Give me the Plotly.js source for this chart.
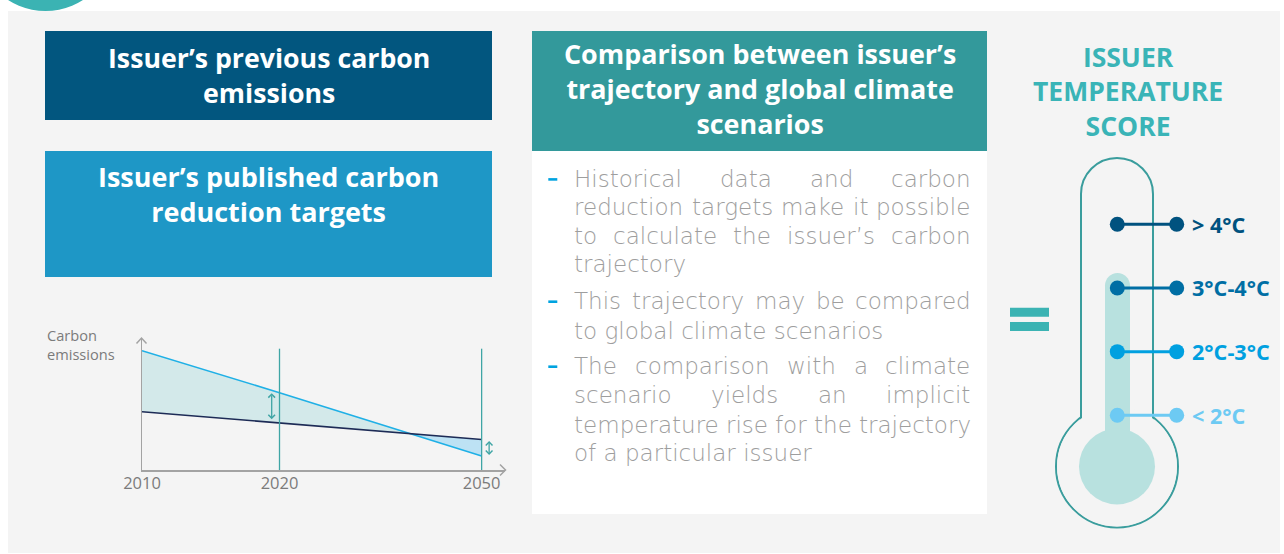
<!DOCTYPE html>
<html><head><meta charset="utf-8">
<script src="https://cdn.plot.ly/plotly-3.0.1.min.js"></script>
<style>html,body{margin:0;padding:0;background:#fff;overflow:hidden}#chart{width:1284px;height:554px}</style>
</head><body><div id="chart"></div>
<script>
// ---------- data ----------
const years = ['2010', '2020', '2050'];
const yearPositions = [0, 10, 24.7];          // the original axis is not to scale
const scenarioEmissions = [119.3, 77.3, 14];  // global climate scenario (light blue)
const issuerEmissions = [58.3, 47.3, 30.5];   // issuer trajectory (navy)
const tempLabels = ['> 4°C', '3°C-4°C', '2°C-3°C', '< 2°C'];
const tempLevels = [4, 3, 2, 1];
const tempColors = ['#00527f', '#006ea4', '#00a0e0', '#6dcaf3'];
const box1Lines = ['Issuer’s previous carbon', 'emissions'];
const box2Lines = ['Issuer’s published carbon', 'reduction targets'];
const box3Lines = ['Comparison between issuer’s', 'trajectory and global climate', 'scenarios'];
const scoreLines = ['ISSUER', 'TEMPERATURE', 'SCORE'];
const bullets = [
  ['Historical data and carbon', 'reduction targets make it possible', 'to calculate the issuer’s carbon', 'trajectory'],
  ['This trajectory may be compared', 'to global climate scenarios'],
  ['The comparison with a climate', 'scenario yields an implicit', 'temperature rise for the trajectory', 'of a particular issuer']
];
const yAxisLabel = ['Carbon', 'emissions'];

// ---------- helpers ----------
const W = 1284, H = 554;
const PX = x => x / W, PY = y => 1 - y / H;
const HEAD = 'Open Sans', BODYF = 'DejaVu Sans';
const ctx = document.createElement('canvas').getContext('2d');
function tw(t, size, weight, fam) { ctx.font = `${weight} ${size}px "${fam}"`; return ctx.measureText(t).width; }
function fit(lines, targets, weight, fam) {
  let s = 0; lines.forEach((l, i) => { s += targets[i] / tw(l, 100, weight, fam) * 100; }); return s / lines.length;
}
const CENTER_K = {'Open Sans': 0.388, 'DejaVu Sans': 0.346};
function txt(text, xpx, baseline, size, color, weight, anchor, fam) {
  fam = fam || HEAD;
  return {xref: 'paper', yref: 'paper', x: PX(xpx), y: PY(baseline - CENTER_K[fam] * size), xanchor: anchor, yanchor: 'middle',
    text: text, showarrow: false, borderpad: 0, borderwidth: 0, align: anchor === 'left' ? 'left' : 'center',
    font: {family: fam, size: size, color: color, weight: weight}};
}
function block(lines, xpx, baselines, size, color, weight, anchor) {
  const mid = (baselines[0] + baselines[baselines.length - 1]) / 2;
  return txt(lines.join('<br>'), xpx, mid, size, color, weight, anchor, HEAD);
}
function rect(x0, y0, x1, y1, fill) {
  return {type: 'rect', xref: 'paper', yref: 'paper', x0: PX(x0), x1: PX(x1), y0: PY(y1), y1: PY(y0), fillcolor: fill, line: {width: 0}, layer: 'below'};
}
function circ(cx, cy, r, fill, lineColor, lw) {
  return {type: 'circle', xref: 'paper', yref: 'paper', x0: PX(cx - r), x1: PX(cx + r), y0: PY(cy + r), y1: PY(cy - r),
    fillcolor: fill, line: {color: lineColor || 'rgba(0,0,0,0)', width: lw || 0}, layer: 'below'};
}
function roundTop(xl, xr, yTop, yBottom) {
  const r = (xr - xl) / 2, cx = xl + r, cy = yTop + r, k = 0.5523 * r;
  const p = (x, y) => `${PX(x)},${PY(y)}`;
  return `M ${p(xl, yBottom)} L ${p(xl, cy)} C ${p(xl, cy - k)} ${p(cx - k, yTop)} ${p(cx, yTop)} C ${p(cx + k, yTop)} ${p(xr, cy - k)} ${p(xr, cy)} L ${p(xr, yBottom)}`;
}

const BG = '#f4f4f4', TEAL = '#3a9d9d';
const shapes = [];
const annotations = [];

// background panel, corner circle, boxes
shapes.push(rect(8, 11, 1280, 553, BG));
shapes.push(circ(45.5, -58.4, 69.4, '#3bb3b3'));
shapes.push(rect(45, 31, 492, 120, '#02567f'));
shapes.push(rect(45, 151, 492, 277, '#1e97c6'));
shapes.push(rect(532, 31, 987, 151, '#33999b'));
shapes.push(rect(532, 151, 987, 514, '#ffffff'));

// headings (one text block per box)
annotations.push(block(box1Lines, 268.5, [68.3, 102.7], fit(box1Lines, [326, 131], 700, HEAD), '#ffffff', 700, 'center'));
annotations.push(block(box2Lines, 268.5, [188.3, 220.7], fit(box2Lines, [342.7, 234], 700, HEAD), '#ffffff', 700, 'center'));
annotations.push(block(box3Lines, 759.5, [67.7, 99.3, 131], fit(box3Lines, [393.7, 390.7, 126], 700, HEAD), '#ffffff', 700, 'center'));
const scoreSize = (fit(scoreLines, [98, 203.3, 92.7], 700, HEAD) + 31.65 / 1.3) / 2;
annotations.push(block(scoreLines, 1128, [70, 101.7, 133.3], scoreSize, '#3ab4b7', 700, 'center'));

// justified body text
const bodySize = fit(['to global climate scenarios', 'of a particular issuer', 'trajectory'], [312, 236.7, 111.7], 200, BODYF);
const baselines = [[186.7, 215.3, 244, 271.7], [309, 338.7], [374, 403.3, 432.7, 460.7]];
const L = 574.3, R = 970.7, BODY = '#9e9e9e';
bullets.forEach((lines, bi) => {
  shapes.push(rect(548.3, baselines[bi][0] - 8.6, 557.3, baselines[bi][0] - 6, '#00a3e0'));
  lines.forEach((line, li) => {
    const b = baselines[bi][li];
    if (li === lines.length - 1) { annotations.push(txt(line, L, b, bodySize, BODY, 200, 'left', BODYF)); return; }
    const words = line.split(' ');
    const ws = words.map(w => tw(w, bodySize, 200, BODYF));
    const total = ws.reduce((a, c) => a + c, 0);
    const gap = (R - L - total) / (words.length - 1);
    let x = L;
    words.forEach((w, wi) => { annotations.push(txt(w, x, b, bodySize, BODY, 200, 'left', BODYF)); x += ws[wi] + gap; });
  });
});

// small chart: axis label
annotations.push(block(yAxisLabel, 47, [341, 360], 14.6, '#7b7b7b', 400, 'left'));

// axis arrow chevrons
const pp = (x, y) => `${PX(x)},${PY(y)}`;
shapes.push({type: 'path', xref: 'paper', yref: 'paper', path: `M ${pp(500, 464.5)} L ${pp(505.5, 470)} L ${pp(500, 475.5)}`, line: {color: '#a3a3a3', width: 1.5}, layer: 'above'});
shapes.push({type: 'path', xref: 'paper', yref: 'paper', path: `M ${pp(136.5, 343.5)} L ${pp(141.5, 338)} L ${pp(146.5, 343.5)}`, line: {color: '#a3a3a3', width: 1.5}, layer: 'above'});

// vertical reference lines at 2020 and 2050
const vTop = Math.max(...scenarioEmissions) + 2;
[1, 2].forEach(i => shapes.push({type: 'line', xref: 'x', yref: 'y', x0: yearPositions[i], x1: yearPositions[i], y0: 0, y1: vTop,
  line: {color: '#3fa5a5', width: 1.3}, layer: 'above'}));

// double arrows showing the gap
const PXU = 13.75;
function dblArrow(xv, yA, yB) {
  return {xref: 'x', yref: 'y', axref: 'x', ayref: 'y', x: xv, y: yA, ax: xv, ay: yB, text: '', showarrow: true,
    arrowhead: 4, startarrowhead: 4, arrowside: 'end+start', arrowsize: 1, startarrowsize: 1, arrowwidth: 1.3, arrowcolor: '#3fa5a5', standoff: 0, startstandoff: 0};
}
annotations.push(dblArrow(yearPositions[1] - 7.8 / PXU, scenarioEmissions[1] - 0.5, issuerEmissions[1] + 2));
annotations.push(dblArrow(yearPositions[2] + 7.5 / PXU, issuerEmissions[2] - 1.5, scenarioEmissions[2] - 0.5));

// fill split at the crossing of the two trajectories
const diff = scenarioEmissions.map((v, i) => v - issuerEmissions[i]);
const k = diff.findIndex((d, i) => i > 0 && diff[i - 1] * d < 0);
const t = diff[k - 1] / (diff[k - 1] - diff[k]);
const xc = yearPositions[k - 1] + t * (yearPositions[k] - yearPositions[k - 1]);
const yc = issuerEmissions[k - 1] + t * (issuerEmissions[k] - issuerEmissions[k - 1]);
const xA = yearPositions.slice(0, k).concat([xc]);
const xB = [xc].concat(yearPositions.slice(k));
const iA = issuerEmissions.slice(0, k).concat([yc]), sA = scenarioEmissions.slice(0, k).concat([yc]);
const iB = [yc].concat(issuerEmissions.slice(k)), sB = [yc].concat(scenarioEmissions.slice(k));

const base = {mode: 'lines', hoverinfo: 'skip', showlegend: false, xaxis: 'x', yaxis: 'y'};
const traces = [
  Object.assign({}, base, {x: xA, y: iA, line: {width: 0}}),
  Object.assign({}, base, {x: xA, y: sA, line: {width: 0}, fill: 'tonexty', fillcolor: '#d3e9ea'}),
  Object.assign({}, base, {x: xB, y: iB, line: {width: 0}}),
  Object.assign({}, base, {x: xB, y: sB, line: {width: 0}, fill: 'tonexty', fillcolor: '#bde2f4'}),
  Object.assign({}, base, {x: yearPositions, y: scenarioEmissions, line: {color: '#1fb0e6', width: 1.6}}),
  Object.assign({}, base, {x: yearPositions, y: issuerEmissions, line: {color: '#1d2b56', width: 1.6}})
];

// thermometer
const TH = {cx: 1117, cy: 466.5, r: 61, tubeL: 1081, tubeR: 1153, tubeTop: 158, mL: 1105, mR: 1130, mTop: 273, innerR: 38, dotX: 1117.3, tipX: 1176.7};
shapes.push(circ(TH.cx, TH.cy, TH.r, BG, TEAL, 2));
shapes.push({type: 'path', xref: 'paper', yref: 'paper', path: roundTop(TH.tubeL, TH.tubeR, TH.tubeTop, 445), fillcolor: BG, line: {color: TEAL, width: 2}, layer: 'below'});
shapes.push(circ(TH.cx, TH.cy, TH.r - 1.1, BG));
shapes.push({type: 'path', xref: 'paper', yref: 'paper', path: roundTop(TH.mL, TH.mR, TH.mTop, 470) + ' Z', fillcolor: '#b8e1df', line: {width: 0}, layer: 'below'});
shapes.push(circ(TH.cx, TH.cy, TH.innerR, '#b8e1df'));
shapes.push(rect(1010, 307.7, 1049, 316.7, '#3bb3b3'));
shapes.push(rect(1010, 322, 1049, 331, '#3bb3b3'));

const LEVEL_PX = 63.67, LEVEL4_Y = 224.3;
tempLevels.forEach((lvl, i) => {
  traces.push({x: [TH.dotX, TH.tipX], y: [lvl, lvl], xaxis: 'x2', yaxis: 'y2', mode: 'lines+markers', cliponaxis: false,
    line: {color: tempColors[i], width: 3}, marker: {size: 15, color: tempColors[i]}, hoverinfo: 'skip', showlegend: false});
});
const labSize = fit(tempLabels, [53.3, 79, 77.6, 52.6], 700, HEAD);
tempLabels.forEach((lab, i) => annotations.push({xref: 'x2', yref: 'y2', x: TH.tipX + 15, y: tempLevels[i], xanchor: 'left', yanchor: 'middle',
  text: lab, showarrow: false, borderpad: 0, borderwidth: 0, font: {family: HEAD, size: labSize, color: tempColors[i], weight: 700}}));

const layout = {
  width: W, height: H, margin: {l: 0, r: 0, t: 0, b: 0, pad: 0},
  paper_bgcolor: '#ffffff', plot_bgcolor: 'rgba(0,0,0,0)', showlegend: false,
  xaxis: {domain: [142 / W, 505 / W], range: [0, (505 - 142) / PXU], showline: true, linecolor: '#a3a3a3', linewidth: 1.5,
    showgrid: false, zeroline: false, tickmode: 'array', tickvals: yearPositions, ticktext: years, ticks: '', ticklabelstandoff: -2,
    tickfont: {family: HEAD, size: 16.5, color: '#7b7b7b'}, fixedrange: true},
  yaxis: {domain: [1 - 470 / H, 1 - 338 / H], range: [0, 132], showline: true, linecolor: '#a3a3a3', linewidth: 1.5,
    showgrid: false, zeroline: false, showticklabels: false, ticks: '', fixedrange: true},
  xaxis2: {domain: [0, 1], range: [0, W], anchor: 'y2', visible: false, fixedrange: true},
  yaxis2: {domain: [0, 1], range: [4 - (H - LEVEL4_Y) / LEVEL_PX, 4 + LEVEL4_Y / LEVEL_PX], anchor: 'x2', visible: false, fixedrange: true},
  shapes: shapes, annotations: annotations
};
Plotly.newPlot('chart', traces, layout, {staticPlot: true, displayModeBar: false});
</script></body></html>
